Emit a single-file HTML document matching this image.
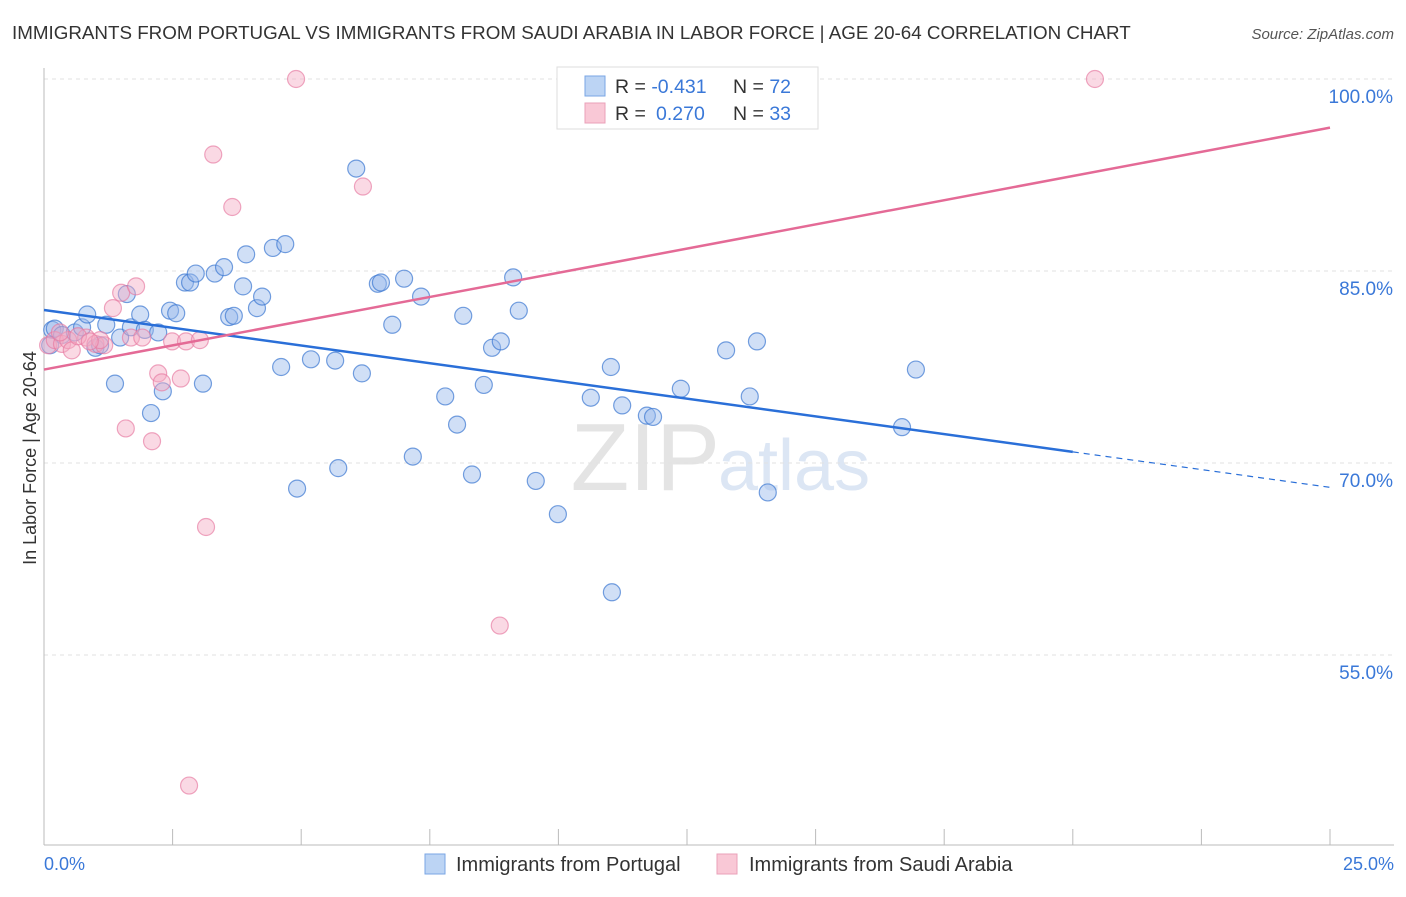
<!DOCTYPE html>
<html><head><meta charset="utf-8"><style>
body{margin:0;background:#fff;font-family:"Liberation Sans",sans-serif}
svg text{font-family:"Liberation Sans",sans-serif}
</style></head><body>
<svg width="1406" height="892" xmlns="http://www.w3.org/2000/svg">
<text x="12" y="39" font-size="18.8" fill="#333">IMMIGRANTS FROM PORTUGAL VS IMMIGRANTS FROM SAUDI ARABIA IN LABOR FORCE | AGE 20-64 CORRELATION CHART</text>
<text x="1394" y="39" font-size="15" fill="#555" font-style="italic" text-anchor="end">Source: ZipAtlas.com</text>
<text x="720" y="490" font-size="96" fill="#e4e4e4" font-family="Liberation Serif" text-anchor="end">ZIP</text>
<text x="718" y="490" font-size="72" fill="#dce6f4">atlas</text>
<g id="grid"></g><g id="axes"></g><g id="pts"></g><g id="lines"></g>
<text x="36" y="458" font-size="18" fill="#333" text-anchor="middle" transform="rotate(-90 36 458)">In Labor Force | Age 20-64</text>
<text x="44" y="870" font-size="18" fill="#3a78d8">0.0%</text>
<text x="1394" y="870" font-size="18" fill="#3a78d8" text-anchor="end">25.0%</text>
<g>
<rect x="557" y="67" width="261" height="62" fill="#fff" stroke="#ddd"/>
<rect x="585" y="76" width="20" height="20" fill="#bcd4f4" stroke="#7aa6e4"/>
<rect x="585" y="103" width="20" height="20" fill="#f9c8d6" stroke="#eaa0b8"/>
<text x="615" y="93" font-size="19.5" fill="#333">R = <tspan fill="#3a78d8">-0.431</tspan><tspan x="733">N = </tspan><tspan fill="#3a78d8">72</tspan></text>
<text x="615" y="120" font-size="19.5" fill="#333">R = <tspan x="656" fill="#3a78d8">0.270</tspan><tspan x="733">N = </tspan><tspan fill="#3a78d8">33</tspan></text>
</g>
<g>
<rect x="425" y="854" width="20" height="20" fill="#bcd4f4" stroke="#7aa6e4"/>
<text x="456" y="871" font-size="20" fill="#333">Immigrants from Portugal</text>
<rect x="717" y="854" width="20" height="20" fill="#f9c8d6" stroke="#eaa0b8"/>
<text x="749" y="871" font-size="20" fill="#333">Immigrants from Saudi Arabia</text>
</g>
</svg>
<script>
const yTicks=[100,85,70,55];
const yTickLabels=["100.0%","85.0%","70.0%","55.0%"];
const xTicks=[0,2.5,5,7.5,10,12.5,15,17.5,20,22.5,25];
const blueX=[0.16,0.21,0.35,0.60,0.74,0.84,1.00,1.09,1.21,1.38,1.48,1.61,1.69,1.87,1.96,2.08,2.22,2.31,2.45,2.57,2.74,2.84,2.95,3.09,3.32,3.50,3.60,3.69,3.87,3.93,4.14,4.24,4.45,4.69,4.61,4.92,5.19,5.66,5.72,6.07,6.18,6.49,6.55,6.77,7.00,7.17,7.33,7.80,8.03,8.15,8.32,8.55,8.71,8.88,9.12,9.23,9.56,9.99,10.63,11.02,11.04,11.24,11.72,11.84,12.38,13.26,13.72,13.86,14.07,16.68,16.95,0.12];
const blueY=[80.4,80.5,80.0,80.2,80.6,81.6,79.0,79.2,80.8,76.2,79.8,83.2,80.6,81.6,80.4,73.9,80.2,75.6,81.9,81.7,84.1,84.1,84.8,76.2,84.8,85.3,81.4,81.5,83.8,86.3,82.1,83.0,86.8,87.1,77.5,68.0,78.1,78.0,69.6,93.0,77.0,84.0,84.1,80.8,84.4,70.5,83.0,75.2,73.0,81.5,69.1,76.1,79.0,79.5,84.5,81.9,68.6,66.0,75.1,77.5,59.9,74.5,73.7,73.6,75.8,78.8,75.2,79.5,67.7,72.8,77.3,79.2];
const pinkX=[0.08,0.21,0.35,0.47,0.54,0.82,1.00,1.17,1.34,1.50,1.59,1.69,1.79,1.91,2.10,2.22,2.29,2.49,2.66,2.76,3.03,3.15,3.29,3.66,2.82,4.90,6.20,8.86,20.43,0.31,0.66,1.09,0.89];
const pinkY=[79.2,79.6,79.3,79.6,78.8,79.8,79.3,79.2,82.1,83.3,72.7,79.8,83.8,79.8,71.7,77.0,76.3,79.5,76.6,79.5,79.6,65.0,94.1,90.0,44.8,100.0,91.6,57.3,100.0,80.2,79.9,79.6,79.5];
const blueTrend=[81.95,68.1];
const pinkTrend=[77.3,96.2];
const NS='http://www.w3.org/2000/svg';
const X=v=>44+v/25*1286, Y=v=>79+(100-v)*12.8;
function mk(t,a,p){const e=document.createElementNS(NS,t);for(const k in a)e.setAttribute(k,a[k]);document.getElementById(p).appendChild(e);return e;}
yTicks.forEach((t,i)=>{
 const g=mk('line',{x1:44,x2:1394,y1:Y(t),y2:Y(t),stroke:'#e2e2e2','stroke-dasharray':'4 4'},'grid');
 
 
 const l=mk('text',{x:1393,y:Y(t)+24,'font-size':19,fill:'#3a78d8','text-anchor':'end'},'grid');
 l.textContent=yTickLabels[i];
 
 
});
const ya=mk('line',{x1:44,x2:44,y1:68,y2:845,stroke:'#bbb'},'axes');


const xa=mk('line',{x1:44,x2:1394,y1:845,y2:845,stroke:'#bbb'},'axes');


xTicks.forEach(t=>{
 const k=mk('line',{x1:X(t),x2:X(t),y1:829,y2:845,stroke:'#bbb'},'axes');
 
 
});
blueX.forEach((v,i)=>{
 const c=mk('circle',{cx:X(v),cy:Y(blueY[i]),r:8.5,fill:'rgba(150,185,235,0.45)',stroke:'rgba(60,120,210,0.7)','stroke-width':1.2},'pts');
 
 
});
pinkX.forEach((v,i)=>{
 const c=mk('circle',{cx:X(v),cy:Y(pinkY[i]),r:8.5,fill:'rgba(245,170,195,0.45)',stroke:'rgba(230,120,160,0.65)','stroke-width':1.2},'pts');
 
 
});
const bY=x=>blueTrend[0]+(blueTrend[1]-blueTrend[0])*x/25;
const b1=mk('line',{x1:X(0),y1:Y(bY(0)),x2:X(20),y2:Y(bY(20)),stroke:'#2a6fd8','stroke-width':2.5},'lines');


const b2=mk('line',{x1:X(20),y1:Y(bY(20)),x2:X(25),y2:Y(bY(25)),stroke:'#2a6fd8','stroke-width':1.2,'stroke-dasharray':'6 5'},'lines');


const p1=mk('line',{x1:X(0),y1:Y(pinkTrend[0]),x2:X(25),y2:Y(pinkTrend[1]),stroke:'#e46a96','stroke-width':2.5},'lines');


</script>
</body></html>
